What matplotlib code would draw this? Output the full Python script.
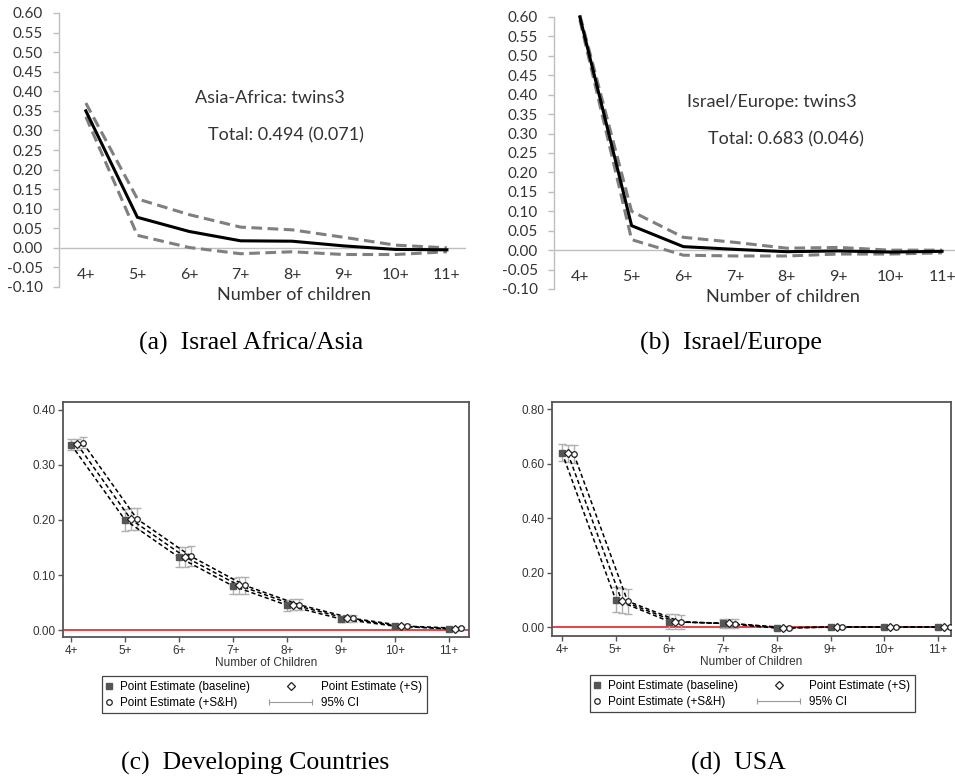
import numpy as np
import matplotlib
matplotlib.use("Agg")
import matplotlib.pyplot as plt
from matplotlib.lines import Line2D
from matplotlib.legend_handler import HandlerBase

plt.rcParams['axes.unicode_minus'] = False

# categories
kids = ['4+', '5+', '6+', '7+', '8+', '9+', '10+', '11+']
x = np.arange(4, 12)

# (a) Israel Africa/Asia : estimate and CI bounds
afr_est = [0.350, 0.078, 0.042, 0.018, 0.017, 0.005, -0.004, -0.005]
afr_hi = [0.370, 0.125, 0.085, 0.053, 0.046, 0.027, 0.007, 0.000]
afr_lo = [0.335, 0.032, 0.001, -0.015, -0.010, -0.017, -0.017, -0.010]

# (b) Israel/Europe
eur_est = [0.600, 0.063, 0.009, 0.002, -0.004, -0.002, -0.005, -0.003]
eur_hi = [0.605, 0.100, 0.033, 0.020, 0.005, 0.007, 0.000, 0.000]
eur_lo = [0.592, 0.027, -0.013, -0.015, -0.015, -0.010, -0.010, -0.007]

# (c) Developing countries: baseline, +S, +S&H, half CI width
dev_base = [0.337, 0.200, 0.132, 0.080, 0.045, 0.020, 0.007, 0.002]
dev_s = [0.338, 0.201, 0.133, 0.081, 0.046, 0.021, 0.007, 0.002]
dev_sh = [0.340, 0.202, 0.134, 0.081, 0.046, 0.021, 0.007, 0.003]
dev_ci = [0.010, 0.020, 0.018, 0.015, 0.010, 0.006, 0.004, 0.003]

# (d) USA
usa_base = [0.640, 0.100, 0.020, 0.013, -0.004, 0.000, 0.000, 0.000]
usa_s = [0.637, 0.097, 0.020, 0.013, -0.003, 0.000, 0.000, 0.000]
usa_sh = [0.635, 0.095, 0.018, 0.012, -0.003, 0.000, 0.000, 0.000]
usa_ci = [0.032, 0.046, 0.027, 0.017, 0.004, 0.002, 0.002, 0.002]

top_yticks = np.round(np.linspace(-0.10, 0.60, 15), 2) + 0.0
dev_yticks = [0.00, 0.10, 0.20, 0.30, 0.40]
usa_yticks = [0.00, 0.20, 0.40, 0.60, 0.80]

W, H = 955, 782
fig = plt.figure(figsize=(W / 100, H / 100), dpi=100)


def px_axes(l, t, r, b):
    return fig.add_axes([l / W, 1 - b / H, (r - l) / W, (b - t) / H])


XL = 'Lato'
SANS = 'Liberation Sans'
SERIF = 'Liberation Serif'


# excel-style panels
def excel_panel(rect, xlim, est, hi, lo, title, total, xlab_x, txt_pos):
    ax = px_axes(*rect)
    ax.set_xlim(*xlim)
    ax.set_ylim(-0.10, 0.60)
    for s in ['top', 'right', 'bottom']:
        ax.spines[s].set_visible(False)
    ax.spines['left'].set_color('#bfbfbf')
    ax.spines['left'].set_linewidth(1)
    ax.axhline(0, color='#bfbfbf', lw=1, zorder=1)
    ax.plot(x, hi, color='#7f7f7f', lw=2.2, dashes=(3.5, 1.8), clip_on=False, zorder=2)
    ax.plot(x, lo, color='#7f7f7f', lw=2.2, dashes=(3.5, 1.8), clip_on=False, zorder=2)
    ax.plot(x, est, color='black', lw=2.2, clip_on=False, zorder=3)
    ax.set_yticks(top_yticks, [f'{t:.2f}' for t in top_yticks])
    ax.set_xticks(x, kids)
    ax.tick_params(axis='y', length=4.5, width=1, color='#bfbfbf', pad=7,
                   labelsize=11, labelcolor='#333333')
    ax.tick_params(axis='x', length=0, pad=-13.5, labelsize=11.5, labelcolor='#333333')
    for lab in ax.get_xticklabels() + ax.get_yticklabels():
        lab.set_fontfamily(XL)
    ax.set_xlabel('Number of children', fontsize=13, family=XL, color='#333333',
                  labelpad=0, x=xlab_x)
    ax.text(txt_pos[0], txt_pos[1], title, transform=ax.transAxes, ha='center',
            va='center', fontsize=13, family=XL, color='#333333')
    ax.text(txt_pos[2], txt_pos[3], total, transform=ax.transAxes, ha='center',
            va='center', fontsize=13, family=XL, color='#333333')
    return ax


excel_panel((59, 13, 466, 287), (3.48, 11.37), afr_est, afr_hi, afr_lo,
            'Asia-Africa: twins3', 'Total: 0.494 (0.071)', 0.577,
            (0.518, 0.690, 0.558, 0.555))
excel_panel((554, 17, 955, 289), (3.5, 11.25), eur_est, eur_hi, eur_lo,
            'Israel/Europe: twins3', 'Total: 0.683 (0.046)', 0.571,
            (0.544, 0.688, 0.579, 0.551))


class WideHandler(HandlerBase):
    def __init__(self, ext):
        super().__init__()
        self.ext = ext

    def create_artists(self, legend, orig_handle, xdescent, ydescent, width,
                       height, fontsize, trans):
        x0 = -xdescent - self.ext * fontsize
        x1 = -xdescent + width
        y = height / 2 - ydescent
        if orig_handle.get_linestyle() in ('None', 'none', ''):
            ln = Line2D([(x0 + x1) / 2], [y])
        else:
            ln = Line2D([x0, x1], [y, y])
        ln.update_from(orig_handle)
        ln.set_transform(trans)
        return [ln]


offs = [0.0, 0.11, 0.22]
mk = [dict(marker='s', mfc='#555555', mec='#555555', ms=4),
      dict(marker='D', mfc='white', mec='#222222', ms=3.6, mew=0.9),
      dict(marker='o', mfc='white', mec='#222222', ms=4, mew=0.9)]


def stata_panel(rect, xlim, ylim, series, ci, yticks, leg_anchor):
    ax = px_axes(*rect)
    ax.set_xlim(*xlim)
    ax.set_ylim(*ylim)
    ax.axhline(0, color='#e8303a', lw=1.3, zorder=1)
    for vals, off, m in zip(series, offs, mk):
        xs = x + off
        ax.errorbar(xs, vals, yerr=ci, fmt='none', ecolor='#b0b0b0', elinewidth=1,
                    capsize=3, capthick=1, zorder=2)
        ax.plot(xs, vals, color='black', lw=1.1, dashes=(2.8, 1.8), zorder=3)
        ax.plot(xs, vals, ls='none', zorder=4, **m)
    for s in ax.spines.values():
        s.set_color('#555555')
        s.set_linewidth(1.3)
    ax.set_yticks(yticks, [f'{t:.2f}' for t in yticks])
    ax.set_xticks(x, kids)
    ax.tick_params(length=3.5, width=1, color='#555555', pad=2, labelsize=8.5,
                   labelcolor='#333333')
    for lab in ax.get_xticklabels() + ax.get_yticklabels():
        lab.set_fontfamily(SANS)
    ax.set_xlabel('Number of Children', fontsize=8.5, family=SANS, color='#333333',
                  labelpad=0)
    h_base = Line2D([], [], ls='none', **mk[0])
    h_sh = Line2D([], [], ls='none', **mk[2])
    h_s = Line2D([], [], ls='none', **mk[1])
    h_ci = Line2D([], [], color='#999999', lw=0.8, marker='|', ms=5, mew=0.8)
    leg = fig.legend([h_base, h_sh, h_s, h_ci],
                     ['Point Estimate (baseline)', 'Point Estimate (+S&H)',
                      'Point Estimate (+S)', '95% CI'],
                     ncol=2, loc='upper left', bbox_to_anchor=leg_anchor,
                     bbox_transform=fig.transFigure, borderaxespad=0,
                     prop={'family': SANS, 'size': 8.4}, fancybox=False,
                     edgecolor='#444444', framealpha=1, handlelength=0.4,
                     handletextpad=0.75, columnspacing=4.95, labelspacing=0.35,
                     borderpad=0.4,
                     handler_map={h_s: WideHandler(3.3), h_ci: WideHandler(3.3)})
    leg.get_frame().set_linewidth(0.9)
    return ax


stata_panel((63, 402, 469, 637), (3.85, 11.37), (-0.0127, 0.4145),
            (dev_base, dev_s, dev_sh), dev_ci, dev_yticks,
            (102 / W, 1 - 676 / H))
stata_panel((552, 402, 951, 636), (3.814, 11.24), (-0.033, 0.826),
            (usa_base, usa_s, usa_sh), usa_ci, usa_yticks,
            (590 / W, 1 - 675 / H))

# captions
fig.text(251 / W, 1 - 343 / H, '(a)  Israel Africa/Asia', ha='center', va='center',
         fontsize=18.5, family=SERIF)
fig.text(731 / W, 1 - 343 / H, '(b)  Israel/Europe', ha='center', va='center',
         fontsize=18.5, family=SERIF)
fig.text(255 / W, 1 - 763 / H, '(c)  Developing Countries', ha='center', va='center',
         fontsize=18.5, family=SERIF)
fig.text(738 / W, 1 - 763 / H, '(d)  USA', ha='center', va='center',
         fontsize=18.5, family=SERIF)

fig.savefig('out.png', dpi=100)
